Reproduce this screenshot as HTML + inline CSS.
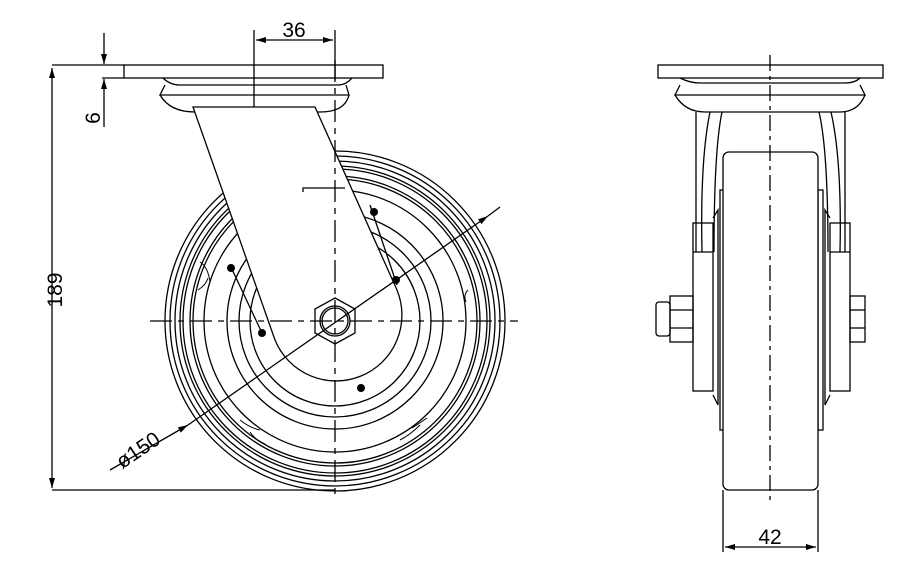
<!DOCTYPE html>
<html><head><style>body{margin:0;background:#fff}svg{display:block}text{font-family:"Liberation Sans",sans-serif;font-size:21px;fill:#000;stroke:none;font-weight:normal}</style></head><body>
<svg width="903" height="572" viewBox="0 0 903 572" xmlns="http://www.w3.org/2000/svg" fill="none" stroke="#000" stroke-width="1.3">
<defs><marker id="a" viewBox="0 0 10 6" refX="10" refY="3" markerWidth="14" markerHeight="6" markerUnits="userSpaceOnUse" orient="auto-start-reverse"><path d="M0,0L10,3L0,6z" fill="#000" stroke="none"/></marker></defs>
<line x1="52" y1="65" x2="124" y2="65"/><line x1="52" y1="490" x2="335" y2="490"/>
<line x1="52" y1="68" x2="52" y2="488" marker-start="url(#a)" marker-end="url(#a)"/>
<text x="62" y="290" transform="rotate(-90 62 290)" text-anchor="middle">189</text>
<line x1="102" y1="78" x2="124" y2="78"/>
<line x1="104" y1="33" x2="104" y2="64" marker-end="url(#a)"/><line x1="104" y1="127" x2="104" y2="79" marker-end="url(#a)"/>
<text x="100" y="118" transform="rotate(-90 100 118)" text-anchor="middle" font-size="18">6</text>
<line x1="254" y1="30" x2="254" y2="195"/><line x1="335" y1="30" x2="335" y2="80"/>
<line x1="256" y1="40" x2="333" y2="40" marker-start="url(#a)" marker-end="url(#a)"/>
<text x="294" y="37" text-anchor="middle">36</text>
<rect x="124" y="65" width="259" height="13"/>
<path d="M163,78 Q170,85 180,85 L338,85 Q346,85 352,78"/>
<path d="M165,85 L160,95 L349,95 L346,85"/>
<path d="M160,95 Q170,112 195,112 L320,112 Q345,112 349,95"/>
<g>
<circle cx="335" cy="321" r="170"/><circle cx="335" cy="321" r="165"/><circle cx="335" cy="321" r="160"/>
<circle cx="335" cy="321" r="155"/><circle cx="335" cy="321" r="152"/><circle cx="335" cy="321" r="145"/><circle cx="335" cy="321" r="142"/>
<circle cx="335" cy="321" r="131" fill="#fff"/><circle cx="335" cy="321" r="108"/>
<circle cx="335" cy="321" r="96"/><circle cx="335" cy="321" r="85"/>
</g>
<path d="M193,107 L315,107 L397,290 A62,62 0 1 1 275,340 Z" fill="#fff"/>
<path d="M230,265 L262,333" /><path d="M370,205 L397,285"/>
<path d="M303,192 L303,188 L345,188"/>
<polygon points="335,298 355,309 355,333 335,344 315,333 315,309" fill="#fff"/>
<circle cx="335" cy="321" r="15"/><circle cx="335" cy="321" r="13"/>
<g fill="#000" stroke="none"><circle cx="374" cy="212" r="4"/><circle cx="231" cy="268" r="4"/><circle cx="396" cy="280" r="4"/><circle cx="262" cy="333" r="4"/><circle cx="361" cy="388" r="4"/></g>
<g stroke-width="1"><path d="M200,262 q8,5 10,20 M198,290 q8,-5 10,-12 M240,420 q10,8 20,10 M250,432 q5,8 15,12 M400,440 q10,-5 20,-15 M412,428 q8,-5 15,-10 M468,290 q-5,5 -2,12"/></g>
<line x1="150" y1="321" x2="518" y2="321" stroke-dasharray="22,6,6,6"/>
<line x1="335" y1="60" x2="335" y2="500" stroke-dasharray="22,6,6,6"/>
<line x1="110" y1="470" x2="188" y2="425" marker-end="url(#a)"/>
<line x1="188" y1="425" x2="488" y2="216" marker-end="url(#a)"/><line x1="488" y1="216" x2="500" y2="207"/>
<text x="142" y="456" transform="rotate(-34 142 456)" text-anchor="middle">ø150</text>
<rect x="658" y="65" width="225" height="13"/>
<path d="M680,78 Q690,83 700,83 L845,83 Q855,83 860,78"/>
<path d="M680,85 L675,95 L865,95 L860,85"/>
<path d="M675,95 Q685,112 705,112 L840,112 Q858,112 865,95"/>
<path d="M696,112 L696,252 M710,112 Q700,160 702,252 M722,112 Q714,150 714,252"/>
<path d="M845,112 L845,252 M831,112 Q842,160 840,252 M819,112 Q828,150 828,252"/>
<rect x="693" y="223" width="20" height="168"/><rect x="830" y="223" width="20" height="168"/>
<line x1="693" y1="252" x2="713" y2="252"/><line x1="830" y1="252" x2="850" y2="252"/>
<path d="M713,218 L718,210 L718,405 L713,395 M830,218 L825,210 L825,405 L830,395"/>
<rect x="720" y="190" width="5" height="240"/><rect x="818" y="190" width="5" height="240"/>
<rect x="723" y="152" width="95" height="338" rx="6" fill="#fff"/>
<rect x="670" y="296" width="23" height="46"/><line x1="670" y1="310" x2="693" y2="310"/><line x1="670" y1="328" x2="693" y2="328"/>
<rect x="656" y="302" width="14" height="34" rx="3"/>
<rect x="850" y="296" width="15" height="46"/><line x1="850" y1="310" x2="865" y2="310"/><line x1="850" y1="328" x2="865" y2="328"/>
<line x1="770" y1="55" x2="770" y2="500" stroke-dasharray="16,5,4,5"/>
<line x1="723" y1="490" x2="723" y2="552"/><line x1="818" y1="490" x2="818" y2="552"/>
<line x1="725" y1="547" x2="816" y2="547" marker-start="url(#a)" marker-end="url(#a)"/>
<text x="770" y="544" text-anchor="middle">42</text>
</svg>
</body></html>
